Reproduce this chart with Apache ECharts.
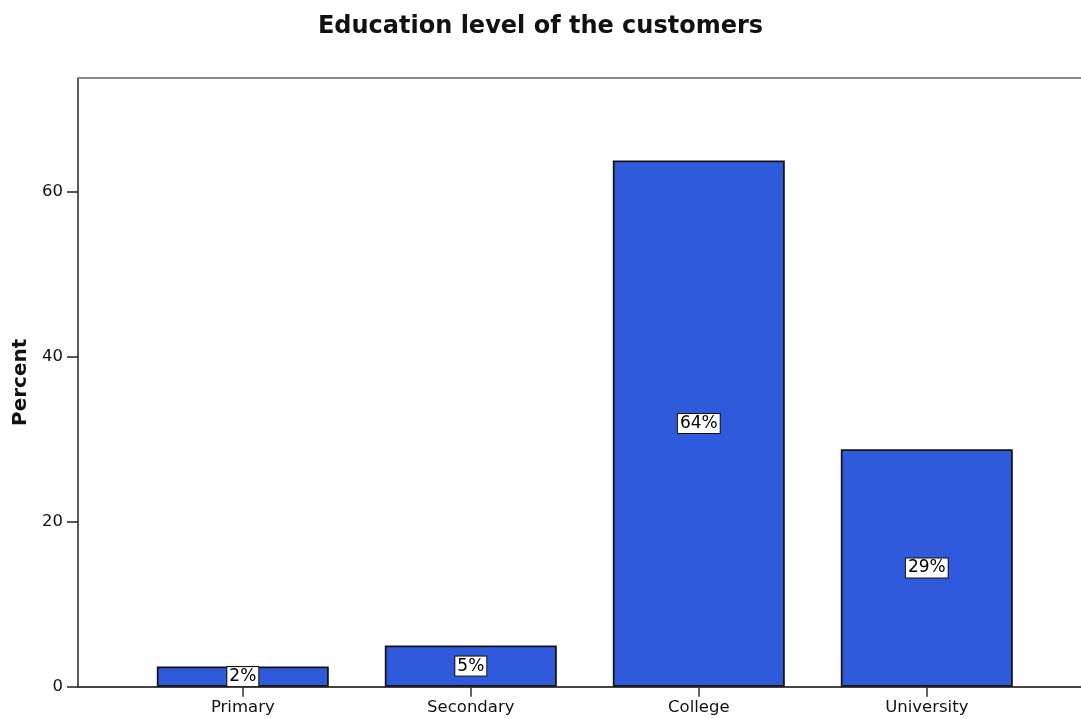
<!DOCTYPE html>
<html>
<head>
<meta charset="utf-8">
<title>Education level of the customers</title>
<script src="https://cdn.jsdelivr.net/npm/echarts@6/dist/echarts.min.js"></script>
<style>
  html, body { margin: 0; padding: 0; background: #ffffff; }
  #chart { width: 1081px; height: 719px; }
</style>
</head>
<body>
<div id="chart"></div>
<script>
// Education levels and the share of customers (%) in each
const categories = ['Primary', 'Secondary', 'College', 'University'];
const percentValues = [2.45, 5.0, 63.8, 28.8];
const yTicks = [0, 20, 40, 60];

const Y_MAX = 73.8;
const FONT = 'DejaVu Sans';

const chart = echarts.init(document.getElementById('chart'), null, { renderer: 'canvas' });

chart.setOption({
  backgroundColor: '#ffffff',
  animation: false,
  title: {
    text: 'Education level of the customers',
    left: 'center',
    top: 10,
    textStyle: { fontFamily: FONT, fontWeight: 'bold', fontSize: 24, color: '#111111' }
  },
  grid: [
    // frame: left axis, bottom baseline and top border running off the right side
    { left: 78, right: -40, top: 78, bottom: 32.3 },
    // plotting area for the bars
    { left: 128.8, right: 40.2, top: 78, bottom: 32.3 }
  ],
  xAxis: [
    {
      gridIndex: 0, type: 'value', min: 0, max: 1, position: 'bottom',
      axisLine: { show: true, onZero: false, lineStyle: { color: '#444444', width: 2 } },
      axisTick: { show: false }, axisLabel: { show: false }, splitLine: { show: false }
    },
    {
      gridIndex: 0, type: 'value', min: 0, max: 1, position: 'top',
      axisLine: { show: true, onZero: false, lineStyle: { color: '#8c8c8c', width: 2 } },
      axisTick: { show: false }, axisLabel: { show: false }, splitLine: { show: false }
    },
    {
      gridIndex: 1, type: 'category', data: categories, position: 'bottom',
      axisLine: { show: false },
      axisTick: { show: true, alignWithLabel: true, length: 10, lineStyle: { color: '#333333', width: 1.5 } },
      axisLabel: { margin: 13, fontFamily: FONT, fontSize: 16.5, color: '#111111' },
      splitLine: { show: false }
    }
  ],
  yAxis: [
    {
      gridIndex: 0, type: 'value', min: 0, max: Y_MAX, interval: 20,
      name: 'Percent', nameLocation: 'middle', nameRotate: 90, nameGap: 43,
      nameTextStyle: { fontFamily: FONT, fontWeight: 'bold', fontSize: 20, color: '#111111' },
      axisLine: { show: true, onZero: false, lineStyle: { color: '#222222', width: 1.5 } },
      axisTick: { show: true, length: 11, lineStyle: { color: '#222222', width: 1.5 } },
      axisLabel: {
        margin: 15, fontFamily: FONT, fontSize: 16.5, color: '#111111',
        showMaxLabel: false,
        formatter: (v) => (yTicks.indexOf(v) >= 0 ? String(v) : '')
      },
      splitLine: { show: false }
    },
    {
      gridIndex: 1, type: 'value', min: 0, max: Y_MAX, interval: 20, show: false,
      splitLine: { show: false }
    }
  ],
  series: [
    {
      type: 'bar',
      xAxisIndex: 2,
      yAxisIndex: 1,
      data: percentValues,
      barWidth: 172,
      itemStyle: { color: '#305ADC', borderColor: '#141414', borderWidth: 1.8 },
      label: {
        show: true,
        position: 'inside',
        formatter: (p) => Math.round(p.value) + '%',
        fontFamily: FONT,
        fontSize: 17,
        color: '#000000',
        backgroundColor: '#ffffff',
        borderColor: '#111111',
        borderWidth: 1,
        padding: [1, 2, 1, 2]
      }
    }
  ]
});
</script>
</body>
</html>
